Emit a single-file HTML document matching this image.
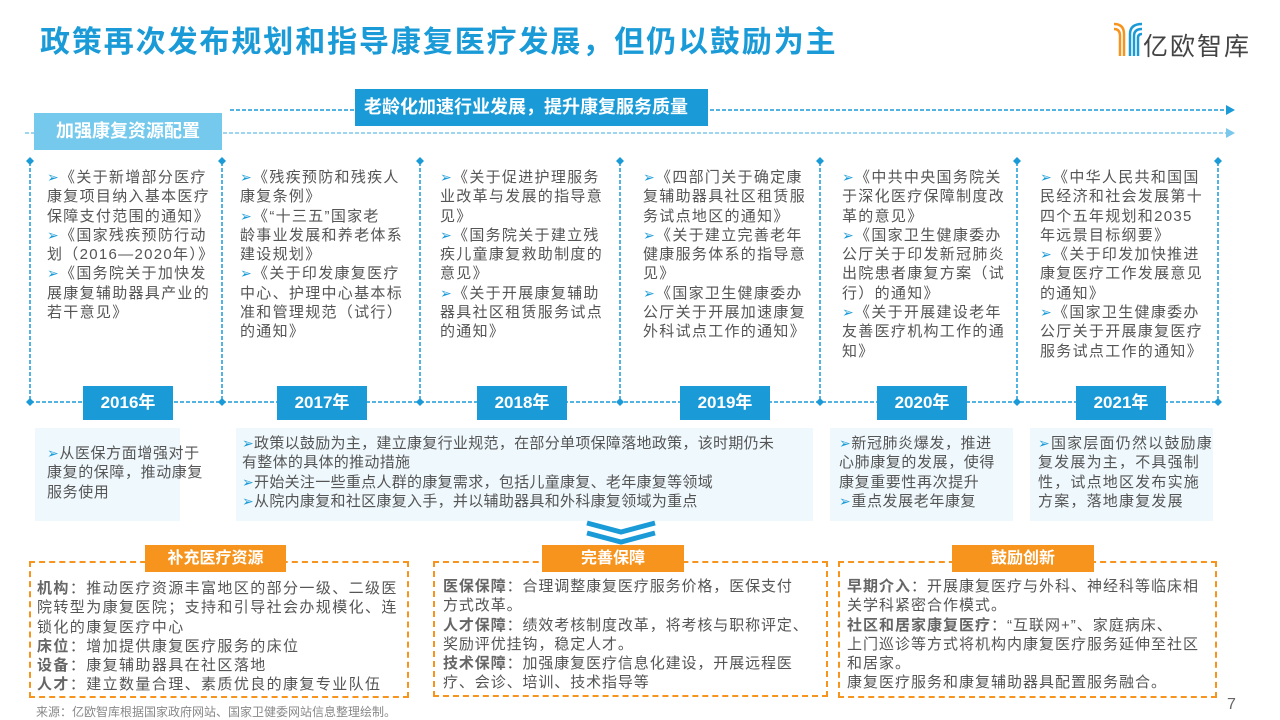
<!DOCTYPE html>
<html><head><meta charset="utf-8"><style>
*{margin:0;padding:0;box-sizing:border-box}
body{width:1280px;height:720px;position:relative;background:#fff;font-family:"Liberation Sans","Noto Sans CJK SC",sans-serif;color:#555;overflow:hidden}
.a{position:absolute}
.t{font-size:15px;line-height:19.3px;white-space:nowrap;color:#555;letter-spacing:1.3px}
.b{color:#1a9bd7;font-size:14px}
.yr{position:absolute;background:#1a9bd7;color:#fff;font-size:17px;font-weight:bold;text-align:center;line-height:34px;width:90px;height:34px;top:386px}
.lb{position:absolute;background:#eff8fc}
.ob{position:absolute;border:2px dashed #f7941d}
.ol{position:absolute;background:#f7941d;color:#fff;font-weight:bold;font-size:16px;text-align:center;line-height:27px;height:27px;top:545px}
.k{font-weight:bold;color:#666}
</style></head><body>
<div class="a" style="left:40px;top:17px;font-size:30px;font-weight:bold;color:#1a9bd7;letter-spacing:1.9px">政策再次发布规划和指导康复医疗发展，但仍以鼓励为主</div>
<svg class="a" style="left:1112px;top:20px" width="36" height="36" viewBox="0 0 36 36">
<path d="M2 4 Q12 4 12 14 L12 36" stroke="#f7941d" stroke-width="2.5" fill="none"/>
<path d="M2 9 Q8 9 8 16 L8 36" stroke="#f7941d" stroke-width="2.5" fill="none"/>
<path d="M30 4 Q18 4 18 14 L18 36" stroke="#1a9bd7" stroke-width="2.5" fill="none"/>
<path d="M30 9 Q22 9 22 16 L22 36" stroke="#1a9bd7" stroke-width="2.5" fill="none"/>
<path d="M30 14 Q26 14 26 18 L26 36" stroke="#1a9bd7" stroke-width="2.5" fill="none"/>
</svg>
<div class="a" style="left:1143px;top:27px;font-size:25px;color:#444;letter-spacing:2px">亿欧智库</div>

<svg class="a" style="left:0;top:0" width="1280" height="430">
<line x1="230" y1="110" x2="1226" y2="110" stroke="#1a9bd7" stroke-width="1.5" stroke-dasharray="4,2"/>
<polygon points="1226,105 1235,110 1226,115" fill="#1a9bd7"/>
<line x1="25" y1="133" x2="1226" y2="133" stroke="#7cc8ec" stroke-width="1.5" stroke-dasharray="4,2"/>
<polygon points="1226,128 1235,133 1226,138" fill="#7cc8ec"/>
<g stroke="#1a9bd7" stroke-width="1.5" stroke-dasharray="4,2">
<line x1="30" y1="162" x2="30" y2="402"/><line x1="222" y1="162" x2="222" y2="402"/><line x1="420" y1="162" x2="420" y2="402"/><line x1="620" y1="162" x2="620" y2="402"/><line x1="820" y1="162" x2="820" y2="402"/><line x1="1017" y1="162" x2="1017" y2="402"/><line x1="1218" y1="162" x2="1218" y2="402"/>
<line x1="30" y1="402" x2="1218" y2="402"/>
</g>
<g fill="#1a9bd7">
<path d="M30 157l4 4-4 4-4-4z"/><path d="M222 157l4 4-4 4-4-4z"/><path d="M420 157l4 4-4 4-4-4z"/><path d="M620 157l4 4-4 4-4-4z"/><path d="M820 157l4 4-4 4-4-4z"/><path d="M1017 157l4 4-4 4-4-4z"/><path d="M1218 157l4 4-4 4-4-4z"/>
<path d="M30 398l4 4-4 4-4-4z"/><path d="M222 398l4 4-4 4-4-4z"/><path d="M420 398l4 4-4 4-4-4z"/><path d="M620 398l4 4-4 4-4-4z"/><path d="M820 398l4 4-4 4-4-4z"/><path d="M1017 398l4 4-4 4-4-4z"/><path d="M1218 398l4 4-4 4-4-4z"/>
</g>
</svg>
<div class="a" style="left:355px;top:89px;width:353px;height:37px;background:#1a9bd7;color:#fff;font-size:18px;font-weight:bold;line-height:37px;padding-left:9px">老龄化加速行业发展，提升康复服务质量</div>
<div class="a" style="left:34px;top:113px;width:188px;height:37px;background:#74c9ec;color:#fff;font-size:18px;font-weight:bold;line-height:37px;text-align:center">加强康复资源配置</div>

<div class="a t" style="left:47px;top:168px"><span class="b">➢</span>《关于新增部分医疗<br>康复项目纳入基本医疗<br>保障支付范围的通知》<br><span class="b">➢</span>《国家残疾预防行动<br>划（2016—2020年）》<br><span class="b">➢</span>《国务院关于加快发<br>展康复辅助器具产业的<br>若干意见》</div>
<div class="a t" style="left:240px;top:168px"><span class="b">➢</span>《残疾预防和残疾人<br>康复条例》<br><span class="b">➢</span>《“十三五”国家老<br>龄事业发展和养老体系<br>建设规划》<br><span class="b">➢</span>《关于印发康复医疗<br>中心、护理中心基本标<br>准和管理规范（试行）<br>的通知》</div>
<div class="a t" style="left:440px;top:168px"><span class="b">➢</span>《关于促进护理服务<br>业改革与发展的指导意<br>见》<br><span class="b">➢</span>《国务院关于建立残<br>疾儿童康复救助制度的<br>意见》<br><span class="b">➢</span>《关于开展康复辅助<br>器具社区租赁服务试点<br>的通知》</div>
<div class="a t" style="left:643px;top:168px"><span class="b">➢</span>《四部门关于确定康<br>复辅助器具社区租赁服<br>务试点地区的通知》<br><span class="b">➢</span>《关于建立完善老年<br>健康服务体系的指导意<br>见》<br><span class="b">➢</span>《国家卫生健康委办<br>公厅关于开展加速康复<br>外科试点工作的通知》</div>
<div class="a t" style="left:842px;top:168px"><span class="b">➢</span>《中共中央国务院关<br>于深化医疗保障制度改<br>革的意见》<br><span class="b">➢</span>《国家卫生健康委办<br>公厅关于印发新冠肺炎<br>出院患者康复方案（试<br>行）的通知》<br><span class="b">➢</span>《关于开展建设老年<br>友善医疗机构工作的通<br>知》</div>
<div class="a t" style="left:1040px;top:168px"><span class="b">➢</span>《中华人民共和国国<br>民经济和社会发展第十<br>四个五年规划和2035<br>年远景目标纲要》<br><span class="b">➢</span>《关于印发加快推进<br>康复医疗工作发展意见<br>的通知》<br><span class="b">➢</span>《国家卫生健康委办<br>公厅关于开展康复医疗<br>服务试点工作的通知》</div>

<div class="yr" style="left:83px">2016年</div><div class="yr" style="left:277px">2017年</div><div class="yr" style="left:477px">2018年</div><div class="yr" style="left:680px">2019年</div><div class="yr" style="left:877px">2020年</div><div class="yr" style="left:1076px">2021年</div>

<div class="lb" style="left:35px;top:428px;width:145px;height:93px"></div>
<div class="lb" style="left:236px;top:428px;width:577px;height:93px"></div>
<div class="lb" style="left:830px;top:428px;width:183px;height:93px"></div>
<div class="lb" style="left:1030px;top:428px;width:183px;height:93px"></div>
<div class="a t" style="left:47px;top:444px;letter-spacing:0.6px"><span class="b">➢</span>从医保方面增强对于<br>康复的保障，推动康复<br>服务使用</div>
<div class="a t" style="left:242px;top:434px;letter-spacing:0.3px"><span class="b">➢</span>政策以鼓励为主，建立康复行业规范，在部分单项保障落地政策，该时期仍未<br>有整体的具体的推动措施<br><span class="b">➢</span>开始关注一些重点人群的康复需求，包括儿童康复、老年康复等领域<br><span class="b">➢</span>从院内康复和社区康复入手，并以辅助器具和外科康复领域为重点</div>
<div class="a t" style="left:839px;top:434px;letter-spacing:0.6px"><span class="b">➢</span>新冠肺炎爆发，推进<br>心肺康复的发展，使得<br>康复重要性再次提升<br><span class="b">➢</span>重点发展老年康复</div>
<div class="a t" style="left:1038px;top:434px;letter-spacing:1.2px"><span class="b">➢</span>国家层面仍然以鼓励康<br>复发展为主，不具强制<br>性，试点地区发布实施<br>方案，落地康复发展</div>

<svg class="a" style="left:585px;top:520px" width="72" height="26"><path d="M2 3 L36 12 L70 3" stroke="#1a9bd7" stroke-width="5" fill="none"/><path d="M2 13 L36 22 L70 13" stroke="#1a9bd7" stroke-width="5" fill="none"/></svg>

<div class="ob" style="left:29px;top:561px;width:380px;height:137px"></div>
<div class="ob" style="left:433px;top:561px;width:395px;height:136px"></div>
<div class="ob" style="left:838px;top:561px;width:379px;height:137px"></div>
<div class="ol" style="left:145px;width:141px">补充医疗资源</div>
<div class="ol" style="left:542px;width:142px">完善保障</div>
<div class="ol" style="left:952px;width:142px">鼓励创新</div>

<div class="a t" style="left:37px;top:579px;letter-spacing:1.4px"><span class="k">机构</span>：推动医疗资源丰富地区的部分一级、二级医<br>院转型为康复医院；支持和引导社会办规模化、连<br>锁化的康复医疗中心<br><span class="k">床位</span>：增加提供康复医疗服务的床位<br><span class="k">设备</span>：康复辅助器具在社区落地<br><span class="k">人才</span>：建立数量合理、素质优良的康复专业队伍</div>
<div class="a t" style="left:443px;top:577px;letter-spacing:0.9px"><span class="k">医保保障</span>：合理调整康复医疗服务价格，医保支付<br>方式改革。<br><span class="k">人才保障</span>：绩效考核制度改革，将考核与职称评定、<br>奖励评优挂钩，稳定人才。<br><span class="k">技术保障</span>：加强康复医疗信息化建设，开展远程医<br>疗、会诊、培训、技术指导等</div>
<div class="a t" style="left:847px;top:577px;letter-spacing:1px"><span class="k">早期介入</span>：开展康复医疗与外科、神经科等临床相<br>关学科紧密合作模式。<br><span class="k">社区和居家康复医疗</span>：“互联网+”、家庭病床、<br>上门巡诊等方式将机构内康复医疗服务延伸至社区<br>和居家。<br>康复医疗服务和康复辅助器具配置服务融合。</div>

<div class="a" style="left:36px;top:703px;font-size:12px;color:#888">来源：亿欧智库根据国家政府网站、国家卫健委网站信息整理绘制。</div>
<div class="a" style="left:1227px;top:696px;font-size:16px;color:#666">7</div>
</body></html>
